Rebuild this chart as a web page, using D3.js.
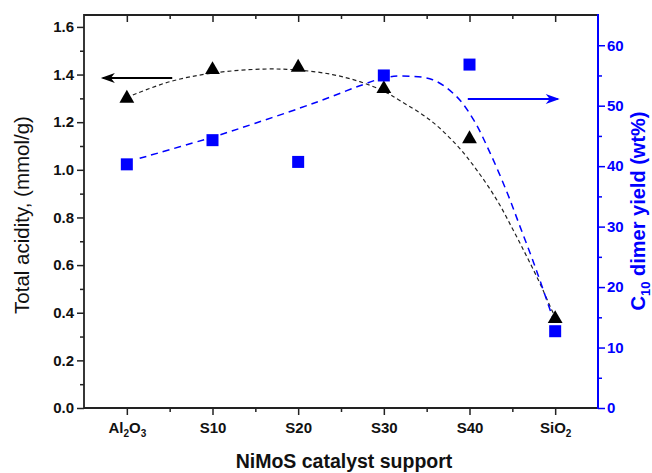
<!DOCTYPE html>
<html>
<head>
<meta charset="utf-8">
<script src="https://cdn.jsdelivr.net/npm/d3@7"></script>
<style>
  body { margin: 0; background: #fff; }
  svg { font-family: "Liberation Sans", Arial, sans-serif; }
</style>
</head>
<body>
<svg id="chart" width="652" height="473"></svg>
<script>
// category positions 1..6
const categories = [1, 2, 3, 4, 5, 6];
// tick label pieces: [text, isSubscript]
const tickLabels = [
    [["Al", 0], ["2", 1], ["O", 0], ["3", 1]],
    [["S10", 0]],
    [["S20", 0]],
    [["S30", 0]],
    [["S40", 0]],
    [["SiO", 0], ["2", 1]],
];
// total acidity (mmol/g), left axis
const acidity = [1.30, 1.42, 1.43, 1.34, 1.13, 0.375];
// C10 dimer yield (wt%), right axis
const dimerYield = [40.3, 44.3, 40.7, 55.0, 56.8, 12.7];

// dashed fit lines
const acidFitX = [1.07, 1.5, 2.0, 2.6, 3.0, 3.4, 3.72, 4.0, 4.19, 4.54, 4.85, 5.085, 5.32, 5.51, 5.67, 5.82, 5.96, 5.99];
const acidFitY = [1.314, 1.37, 1.406, 1.423, 1.419, 1.40, 1.37, 1.33, 1.29, 1.209, 1.104, 0.999, 0.873, 0.747, 0.635, 0.525, 0.411, 0.39];
const yieldFitX = [1.15, 2.0, 2.5, 3.02, 3.37, 3.72, 4.0, 4.19, 4.57, 4.85, 5.05, 5.24, 5.44, 5.59, 5.75, 5.90, 5.98];
const yieldFitY = [41.3, 44.8, 47.1, 49.6, 51.4, 53.3, 54.6, 54.9, 54.3, 51.5, 47.6, 42.2, 35.6, 30.0, 24.0, 17.9, 14.6];

const leftTicks = [0, 0.2, 0.4, 0.6, 0.8, 1.0, 1.2, 1.4, 1.6];
const rightTicks = [0, 10, 20, 30, 40, 50, 60];

const blue = "#0000ff";
const margin = { top: 15, right: 54, bottom: 65, left: 84 };
const width = 652, height = 473;

const svg = d3.select("#chart");

const x = d3.scaleLinear().domain([0.5, 6.5]).range([margin.left, width - margin.right]);
const yL = d3.scaleLinear().domain([0, 1.65]).range([height - margin.bottom, margin.top]);
const yR = d3.scaleLinear().domain([0, 65]).range([height - margin.bottom, margin.top]);

const x0 = margin.left, x1 = width - margin.right;
const y0 = height - margin.bottom, y1 = margin.top;

// 左轴
svg.append("g")
    .attr("transform", `translate(${x0},0)`)
    .call(d3.axisLeft(yL).tickValues(leftTicks).tickFormat(d3.format(".1f")).tickSize(7).tickSizeOuter(0))
    .call(g => g.select(".domain").remove())
    .call(g => g.selectAll("line").attr("stroke", "#222").attr("stroke-width", 1.5))
    .call(g => g.selectAll("text").attr("font-size", 15).attr("font-weight", "bold").attr("fill", "#111").attr("x", -10));

svg.append("g")
    .attr("transform", `translate(${x0},0)`)
    .call(d3.axisLeft(yL).tickValues(d3.range(0.1, 1.65, 0.2)).tickFormat("").tickSize(4).tickSizeOuter(0))
    .call(g => g.select(".domain").remove())
    .call(g => g.selectAll("line").attr("stroke", "#222").attr("stroke-width", 1.5));

// 右轴 (blue)
svg.append("g")
    .attr("transform", `translate(${x1},0)`)
    .call(d3.axisRight(yR).tickValues(rightTicks).tickSize(7).tickSizeOuter(0))
    .call(g => g.select(".domain").remove())
    .call(g => g.selectAll("line").attr("stroke", blue).attr("stroke-width", 1.5))
    .call(g => g.selectAll("text").attr("font-size", 15).attr("font-weight", "bold").attr("fill", blue).attr("x", 9));

svg.append("g")
    .attr("transform", `translate(${x1},0)`)
    .call(d3.axisRight(yR).tickValues(d3.range(5, 60, 10)).tickFormat("").tickSize(4).tickSizeOuter(0))
    .call(g => g.select(".domain").remove())
    .call(g => g.selectAll("line").attr("stroke", blue).attr("stroke-width", 1.5));

// bottom axis
const bottom = svg.append("g")
    .attr("transform", `translate(0,${y0})`)
    .call(d3.axisBottom(x).tickValues(categories).tickFormat("").tickSize(7).tickSizeOuter(0))
    .call(g => g.select(".domain").remove())
    .call(g => g.selectAll("line").attr("stroke", "#222").attr("stroke-width", 1.5));

// 下标用tspan
bottom.selectAll(".tick text")
    .attr("font-size", 15).attr("font-weight", "bold").attr("fill", "#111")
    .attr("y", 25).attr("dy", null)
    .each(function (d, i) {
        const t = d3.select(this);
        t.text(null);
        let prevSub = 0;
        tickLabels[i].forEach(([s, sub]) => {
            t.append("tspan")
                .text(s)
                .attr("font-size", sub ? 10 : 15)
                .attr("dy", sub === prevSub ? 0 : (sub ? 4 : -4));
            prevSub = sub;
        });
    });

svg.append("g")
    .attr("transform", `translate(0,${y0})`)
    .call(d3.axisBottom(x).tickValues([1.5, 2.5, 3.5, 4.5, 5.5]).tickFormat("").tickSize(4).tickSizeOuter(0))
    .call(g => g.select(".domain").remove())
    .call(g => g.selectAll("line").attr("stroke", "#222").attr("stroke-width", 1.5));

// top ticks point inward
svg.append("g")
    .attr("transform", `translate(0,${y1})`)
    .call(d3.axisTop(x).tickValues(categories).tickFormat("").tickSize(-7).tickSizeOuter(0))
    .call(g => g.select(".domain").remove())
    .call(g => g.selectAll("line").attr("stroke", "#222").attr("stroke-width", 1.5));

svg.append("g")
    .attr("transform", `translate(0,${y1})`)
    .call(d3.axisTop(x).tickValues([1.5, 2.5, 3.5, 4.5, 5.5]).tickFormat("").tickSize(-4).tickSizeOuter(0))
    .call(g => g.select(".domain").remove())
    .call(g => g.selectAll("line").attr("stroke", "#222").attr("stroke-width", 1.5));

// frame
svg.append("path")
    .attr("d", `M${x1},${y1}H${x0}V${y0}H${x1}`)
    .attr("fill", "none").attr("stroke", "#222").attr("stroke-width", 1.8);
svg.append("line")
    .attr("x1", x1).attr("x2", x1).attr("y1", y1 - 1).attr("y2", y0 + 1)
    .attr("stroke", blue).attr("stroke-width", 2);

// dashed fits
svg.append("path")
    .datum(d3.zip(acidFitX, acidFitY))
    .attr("d", d3.line().x(d => x(d[0])).y(d => yL(d[1])).curve(d3.curveCatmullRom))
    .attr("fill", "none").attr("stroke", "#222").attr("stroke-width", 1.2)
    .attr("stroke-dasharray", "4,3");

svg.append("path")
    .datum(d3.zip(yieldFitX, yieldFitY))
    .attr("d", d3.line().x(d => x(d[0])).y(d => yR(d[1])).curve(d3.curveCatmullRom))
    .attr("fill", "none").attr("stroke", blue).attr("stroke-width", 1.5)
    .attr("stroke-dasharray", "7,5");

// markers
svg.append("g")
    .selectAll("path")
    .data(categories)
    .join("path")
    .attr("d", d3.symbol(d3.symbolTriangle, 95))
    .attr("transform", (d, i) => `translate(${x(d)},${yL(acidity[i])})`)
    .attr("fill", "#000");

svg.append("g")
    .selectAll("rect")
    .data(categories)
    .join("rect")
    .attr("x", d => x(d) - 6)
    .attr("y", (d, i) => yR(dimerYield[i]) - 6)
    .attr("width", 12).attr("height", 12)
    .attr("fill", blue);

// arrows
const arrow = (xa, xb, yv, scale, color) => {
    const yy = scale(yv);
    svg.append("line")
        .attr("x1", xa).attr("x2", xb).attr("y1", yy).attr("y2", yy)
        .attr("stroke", color).attr("stroke-width", 2);
    const dir = xb > xa ? 1 : -1;
    svg.append("path")
        .attr("d", `M${xb + dir * 2},${yy}L${xb - dir * 12},${yy - 5}L${xb - dir * 8},${yy}L${xb - dir * 12},${yy + 5}Z`)
        .attr("fill", color);
};
arrow(x(1.53), x(0.72), 1.385, yL, "#000");
arrow(x(4.98), x(6.03), 51.1, yR, blue);

// axis titles
svg.append("text")
    .attr("transform", `translate(29,215) rotate(-90)`)
    .attr("text-anchor", "middle")
    .attr("font-size", 20.5)
    .attr("fill", "#111")
    .text("Total acidity, (mmol/g)");

const rt = svg.append("text")
    .attr("transform", `translate(645,211) rotate(-90)`)
    .attr("text-anchor", "middle")
    .attr("font-size", 20)
    .attr("font-weight", "bold")
    .attr("fill", blue);
rt.append("tspan").text("C");
rt.append("tspan").text("10").attr("font-size", 13).attr("dy", 5);
rt.append("tspan").text(" dimer yield (wt%)").attr("dy", -5);

svg.append("text")
    .attr("x", (x0 + x1) / 2 + 3)
    .attr("y", 468)
    .attr("text-anchor", "middle")
    .attr("font-size", 19.5)
    .attr("font-weight", "bold")
    .attr("fill", "#111")
    .text("NiMoS catalyst support");
</script>
</body>
</html>
